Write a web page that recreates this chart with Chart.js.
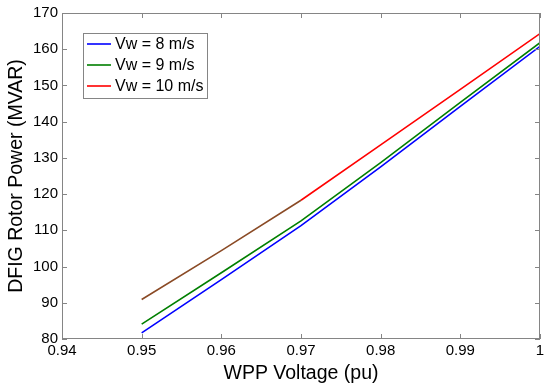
<!DOCTYPE html>
<html>
<head>
<meta charset="utf-8">
<script src="https://cdn.jsdelivr.net/npm/chart.js@4/dist/chart.umd.min.js"></script>
<style>
  html, body { margin: 0; padding: 0; background: #fff; }
  #wrap { width: 550px; height: 385px; }
</style>
</head>
<body>
<div id="wrap"><canvas id="rotorChart"></canvas></div>
<script>
// values
const voltage = [0.95, 0.96, 0.97, 0.98, 0.99, 1.0];
const power8  = [81.7, 96.4, 111.3, 127.5, 144.2, 160.8];
const power9  = [84.1, 98.3, 112.6, 128.7, 145.3, 161.8];
const power10 = [90.9, 104.4, 118.3, 133.6, 148.9, 164.3];
const seriesLabels = ["Vw = 8 m/s", "Vw = 9 m/s", "Vw = 10 m/s"];
const xTicks = [0.94, 0.95, 0.96, 0.97, 0.98, 0.99, 1];
const yTicks = [80, 90, 100, 110, 120, 130, 140, 150, 160, 170];

const FONT = "'Liberation Sans', Arial, sans-serif";
const frameColor = "#858585";

function pts(ys) {
  return voltage.map((v, i) => ({ x: v, y: ys[i] }));
}

// box + inward ticks like matlab
const frameAndTicks = {
  id: "frameAndTicks",
  afterDatasetsDraw(chart) {
    const { ctx, chartArea: a, scales } = chart;
    ctx.save();
    ctx.strokeStyle = frameColor;
    ctx.lineWidth = 1;
    ctx.strokeRect(a.left + 0.5, a.top + 0.5, a.right - a.left - 1, a.bottom - a.top - 1);
    ctx.beginPath();
    const len = 5;
    xTicks.forEach(t => {
      const px = Math.round(scales.x.getPixelForValue(t)) + 0.5;
      ctx.moveTo(px, a.bottom); ctx.lineTo(px, a.bottom - len);
      ctx.moveTo(px, a.top); ctx.lineTo(px, a.top + len);
    });
    yTicks.forEach(t => {
      const py = Math.round(scales.y.getPixelForValue(t)) + 0.5;
      ctx.moveTo(a.left, py); ctx.lineTo(a.left + len, py);
      ctx.moveTo(a.right, py); ctx.lineTo(a.right - len, py);
    });
    ctx.stroke();
    ctx.restore();
  }
};

// legend box inside the axes, top-left
const insideLegend = {
  id: "insideLegend",
  afterDraw(chart) {
    const { ctx, chartArea: a } = chart;
    const x0 = a.left + 21, y0 = a.top + 20, w = 124, h = 65;
    ctx.save();
    ctx.fillStyle = "#fff";
    ctx.fillRect(x0, y0, w, h);
    ctx.strokeStyle = frameColor;
    ctx.lineWidth = 1;
    ctx.strokeRect(x0 + 0.5, y0 + 0.5, w, h);
    ctx.font = "16px " + FONT;
    ctx.textBaseline = "middle";
    chart.data.datasets.forEach((ds, i) => {
      const yy = y0 + 11 + i * 21;
      ctx.strokeStyle = ds.legendColor;
      ctx.lineWidth = 1.6;
      ctx.beginPath();
      ctx.moveTo(x0 + 4, yy); ctx.lineTo(x0 + 28, yy);
      ctx.stroke();
      ctx.fillStyle = "#000";
      ctx.fillText(ds.label, x0 + 32, yy + 1);
    });
    ctx.restore();
  }
};

new Chart(document.getElementById("rotorChart"), {
  type: "scatter",
  data: {
    datasets: [
      { label: seriesLabels[0], data: pts(power8), borderColor: "#0000ff", legendColor: "#0000ff" },
      { label: seriesLabels[1], data: pts(power9), borderColor: "#007f00", legendColor: "#007f00" },
      {
        label: seriesLabels[2], data: pts(power10), borderColor: "#ff0000", legendColor: "#ff0000",
        // overlapping part shows brownish in the original
        segment: { borderColor: c => c.p1.parsed.x <= 0.97 ? "#8a4a25" : "#ff0000" }
      }
    ]
  },
  options: {
    responsive: true,
    maintainAspectRatio: false,
    animation: false,
    showLine: true,
    elements: {
      point: { radius: 0, hoverRadius: 0 },
      line: { borderWidth: 1.6, tension: 0 }
    },
    layout: { padding: { top: 13, right: 10, left: 0, bottom: 0 } },
    plugins: { legend: { display: false }, tooltip: { enabled: false } },
    scales: {
      x: {
        type: "linear", min: 0.94, max: 1,
        afterBuildTicks: s => { s.ticks = xTicks.map(v => ({ value: v })); },
        afterFit: s => { s.height = 46; },
        grid: { display: false, drawTicks: false },
        border: { display: false },
        ticks: {
          color: "#000", font: { family: FONT, size: 15 }, padding: 3,
          maxRotation: 0, autoSkip: false,
          callback: v => String(Number(v.toFixed(2)))
        },
        title: {
          display: true, text: "WPP Voltage (pu)", color: "#000",
          font: { family: FONT, size: 19.5 }, padding: { top: 0, bottom: 0 }
        }
      },
      y: {
        type: "linear", min: 80, max: 170,
        afterBuildTicks: s => { s.ticks = yTicks.map(v => ({ value: v })); },
        afterFit: s => { s.width = 62; },
        grid: { display: false, drawTicks: false },
        border: { display: false },
        ticks: {
          color: "#000", font: { family: FONT, size: 15 }, padding: 4, autoSkip: false
        },
        title: {
          display: true, text: "DFIG Rotor Power (MVAR)", color: "#000",
          font: { family: FONT, size: 19.5 }, padding: { top: 5, bottom: 0 }
        }
      }
    }
  },
  plugins: [frameAndTicks, insideLegend]
});
</script>
</body>
</html>
